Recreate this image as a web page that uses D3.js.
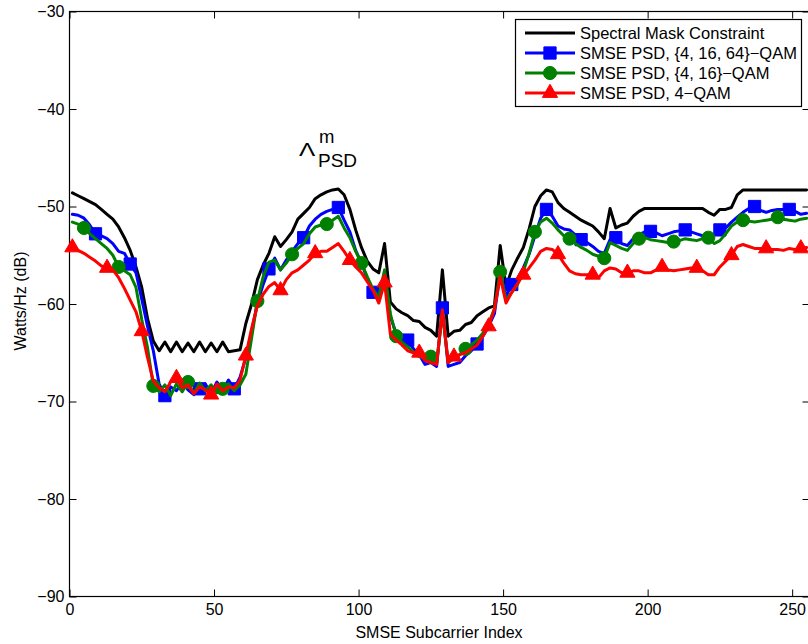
<!DOCTYPE html>
<html>
<head>
<meta charset="utf-8">
<script src="https://cdn.jsdelivr.net/npm/d3@7"></script>
<style>
  html, body { margin: 0; padding: 0; background: #fff; }
  svg { display: block; font-family: "Liberation Sans", Arial, Helvetica, sans-serif; }
</style>
</head>
<body>
<svg id="chart" width="808" height="644"></svg>
<script>
// ---------------- data ----------------
const subcarrierIndex = [
  1,3,5,7,9,11,13,15,17,19,21,23,25,27,29,31,33,35,37,39,
  41,43,45,47,49,51,53,55,57,59,61,63,65,67,69,71,73,75,77,79,
  81,83,85,87,89,91,93,95,97,99,101,103,105,107,109,111,113,115,117,119,
  121,123,125,127,129,131,133,135,137,139,141,143,145,147,149,151,153,155,157,159,
  161,163,165,167,169,171,173,175,177,179,181,183,185,187,189,191,193,195,197,199,
  201,203,205,207,209,211,213,215,217,219,221,223,225,227,229,231,233,235,237,239,
  241,243,245,247,249,251,253,255
];

const maskPSD = [
  -48.6,-48.9,-49.2,-49.5,-49.8,-50.3,-50.8,-51.3,-52.1,-53.2,
  -54.5,-56.2,-58.3,-61.5,-63.8,-64.8,-63.9,-64.9,-63.9,-64.9,
  -64.0,-64.9,-63.9,-64.9,-64.0,-64.9,-63.9,-64.9,-64.8,-64.7,
  -62.0,-60.0,-57.5,-56.0,-54.8,-53.1,-54.1,-53.4,-52.6,-51.3,
  -50.7,-50.1,-49.2,-48.8,-48.5,-48.3,-48.2,-48.8,-50.3,-52.4,
  -54.2,-55.6,-56.4,-56.8,-53.8,-59.8,-60.5,-60.9,-61.2,-61.7,
  -61.8,-62.4,-62.7,-63.3,-56.5,-63.3,-62.8,-62.7,-62.1,-61.9,
  -61.2,-60.8,-60.4,-60.2,-54.0,-58.2,-56.5,-55.3,-54.2,-52.3,
  -50.0,-48.9,-48.3,-48.5,-49.6,-50.2,-50.6,-51.0,-51.4,-51.7,
  -52.0,-52.6,-53.3,-50.2,-52.2,-51.9,-51.7,-51.0,-50.5,-50.2,
  -50.2,-50.2,-50.2,-50.2,-50.2,-50.2,-50.2,-50.2,-50.2,-50.2,
  -50.6,-50.9,-50.3,-50.3,-50.1,-48.8,-48.3,-48.3,-48.3,-48.3,
  -48.3,-48.3,-48.3,-48.3,-48.3,-48.3,-48.3,-48.3
];

const psdQam4_16_64 = [
  -50.8,-50.9,-51.2,-51.9,-52.8,-53.0,-53.3,-53.8,-54.6,-54.8,
  -55.9,-56.8,-59.5,-62.3,-64.8,-68.2,-69.4,-68.5,-68.9,-68.0,
  -68.8,-69.3,-68.7,-68.2,-69.2,-68.0,-68.9,-67.8,-68.7,-67.5,
  -65.5,-62.8,-59.9,-58.0,-56.4,-55.3,-56.5,-55.5,-54.6,-53.8,
  -53.2,-52.0,-51.3,-50.8,-50.5,-50.3,-50.1,-51.4,-52.6,-54.5,
  -55.8,-57.4,-58.8,-59.6,-56.8,-61.3,-63.0,-63.3,-63.7,-64.6,
  -65.2,-66.2,-66.0,-66.4,-60.4,-66.4,-66.2,-66.0,-65.3,-64.8,
  -64.1,-63.3,-62.3,-61.0,-56.8,-59.2,-58.0,-57.4,-56.3,-54.9,
  -53.0,-51.2,-50.3,-51.0,-52.0,-52.3,-52.4,-52.9,-53.4,-53.7,
  -54.1,-54.6,-54.8,-53.4,-53.2,-53.8,-54.0,-53.3,-52.9,-52.6,
  -52.55,-52.7,-53.0,-52.8,-52.6,-52.5,-52.4,-52.6,-52.8,-53.0,
  -53.2,-52.9,-52.4,-52.2,-51.6,-51.1,-50.6,-50.2,-50.0,-50.4,
  -50.6,-50.4,-50.3,-50.3,-50.3,-50.5,-50.8,-50.7
];

const psdQam4_16 = [
  -51.6,-51.8,-52.2,-52.8,-53.3,-53.8,-54.3,-55.0,-56.2,-56.6,
  -57.0,-58.3,-61.6,-64.5,-68.4,-69.0,-68.3,-69.4,-68.2,-69.0,
  -68.0,-69.2,-68.1,-68.9,-68.3,-69.1,-68.7,-68.2,-68.9,-68.3,
  -67.2,-63.5,-59.7,-57.2,-55.7,-55.5,-56.5,-55.8,-54.9,-54.3,
  -53.8,-52.8,-52.1,-51.9,-51.8,-51.4,-51.0,-52.2,-53.2,-54.6,
  -55.8,-57.2,-58.5,-59.3,-56.5,-61.0,-63.3,-63.9,-64.4,-64.9,
  -65.4,-65.6,-65.4,-66.1,-60.9,-66.0,-65.6,-65.2,-64.6,-64.2,
  -63.7,-63.0,-62.0,-60.5,-56.7,-59.6,-58.8,-58.0,-56.7,-54.8,
  -52.6,-51.6,-51.2,-51.7,-52.4,-53.0,-53.3,-53.8,-54.2,-54.5,
  -54.9,-55.1,-55.3,-53.7,-54.0,-54.3,-54.5,-53.8,-53.3,-53.2,
  -53.4,-53.5,-53.6,-53.7,-53.6,-53.5,-53.3,-53.4,-53.5,-53.3,
  -53.2,-53.8,-53.5,-52.8,-52.0,-51.6,-51.4,-51.5,-51.6,-51.5,
  -51.4,-51.3,-51.1,-51.3,-51.4,-51.5,-51.3,-51.2
];

const psdQam4 = [
  -54.2,-54.5,-54.8,-55.2,-55.6,-56.1,-56.3,-56.5,-57.3,-58.4,
  -59.6,-60.8,-62.8,-65.5,-67.9,-68.6,-69.0,-68.0,-67.6,-68.6,
  -68.3,-69.2,-68.5,-68.8,-69.3,-68.2,-68.9,-68.5,-68.6,-67.8,
  -65.3,-62.5,-60.2,-59.0,-58.2,-57.8,-58.6,-57.5,-56.8,-56.5,
  -56.0,-55.5,-54.8,-54.6,-54.6,-54.2,-53.8,-54.6,-55.5,-56.2,
  -56.8,-57.7,-58.6,-59.9,-57.8,-63.1,-63.7,-64.2,-64.8,-65.0,
  -65.0,-65.8,-66.0,-66.2,-60.6,-66.0,-65.4,-65.2,-65.0,-64.6,
  -64.2,-63.3,-62.3,-60.5,-57.2,-59.9,-58.8,-57.9,-57.0,-56.3,
  -55.5,-54.6,-54.3,-54.4,-54.9,-55.8,-56.6,-56.9,-57.0,-57.0,
  -57.0,-57.3,-56.6,-56.3,-56.4,-56.8,-56.8,-56.6,-56.6,-56.8,
  -56.8,-56.5,-56.2,-56.5,-56.6,-56.5,-56.4,-56.3,-56.3,-56.6,
  -57.0,-57.0,-56.2,-55.6,-55.0,-54.1,-53.9,-54.1,-54.3,-54.3,
  -54.3,-54.4,-54.4,-54.5,-54.3,-54.4,-54.3,-54.2
];

const seriesNames = [
  "Spectral Mask Constraint",
  "SMSE PSD, {4, 16, 64}\u2212QAM",
  "SMSE PSD, {4, 16}\u2212QAM",
  "SMSE PSD, 4\u2212QAM"
];
const seriesColors = ["#000000", "#0000ff", "#008000", "#ff0000"];
const seriesMarkers = [null, "square", "circle", "triangle"];
const markerFirstIndex = [null, 9, 5, 1];   // subcarrier of first marker
const markerEvery = 12;                      // subcarriers between markers

const xTicks = [0, 50, 100, 150, 200, 250];
const yTicks = [-90, -80, -70, -60, -50, -40, -30];

// ---------------- layout ----------------
const svg = d3.select("#chart");
const plotLeft = 69.5, plotRight = 809.5, plotTop = 11.5, plotBottom = 596.5;

const x = d3.scaleLinear().domain([0, 256]).range([plotLeft, plotRight]);
const y = d3.scaleLinear().domain([-90, -30]).range([plotBottom, plotTop]);

// axes
const fmt = d3.format("");
const gx = svg.append("g").attr("transform", `translate(0,${plotBottom})`)
  .call(d3.axisBottom(x).tickValues(xTicks).tickSizeInner(-7).tickSizeOuter(0).tickPadding(7).tickFormat(fmt));
const gxTop = svg.append("g").attr("transform", `translate(0,${plotTop})`)
  .call(d3.axisTop(x).tickValues(xTicks).tickSizeInner(-7).tickSizeOuter(0).tickFormat(""));
const gy = svg.append("g").attr("transform", `translate(${plotLeft},0)`)
  .call(d3.axisLeft(y).tickValues(yTicks).tickSizeInner(-7).tickSizeOuter(0).tickPadding(5).tickFormat(fmt));
const gyRight = svg.append("g").attr("transform", `translate(${plotRight},0)`)
  .call(d3.axisRight(y).tickValues(yTicks).tickSizeInner(-7).tickSizeOuter(0).tickFormat(""));

[gx, gxTop, gy, gyRight].forEach(g => {
  g.select(".domain").remove();
  g.selectAll(".tick line").attr("stroke", "#000").attr("stroke-width", 1);
  g.selectAll(".tick text").attr("fill", "#000").style("font-size", "16px")
    .style("font-family", "'Liberation Sans', Arial, sans-serif");
});

// frame
svg.append("rect")
  .attr("x", plotLeft).attr("y", plotTop)
  .attr("width", plotRight - plotLeft).attr("height", plotBottom - plotTop)
  .attr("fill", "none").attr("stroke", "#000").attr("stroke-width", 1.2);

// ---------------- series ----------------
const allValues = [maskPSD, psdQam4_16_64, psdQam4_16, psdQam4];
const line = d3.line().x(d => x(d[0])).y(d => y(d[1]));

function symbolFor(kind) {
  if (kind === "square") return d3.symbol().type(d3.symbolSquare).size(150);
  if (kind === "circle") return d3.symbol().type(d3.symbolCircle).size(135);
  if (kind === "triangle") return d3.symbol().type(d3.symbolTriangle).size(100);
  return null;
}

const plot = svg.append("g");
allValues.forEach((vals, s) => {
  const pts = subcarrierIndex.map((i, k) => [i, vals[k]]);
  plot.append("path")
    .datum(pts)
    .attr("d", line)
    .attr("fill", "none")
    .attr("stroke", seriesColors[s])
    .attr("stroke-width", 3)
    .attr("stroke-linejoin", "round")
    .attr("stroke-linecap", "round");
  const sym = symbolFor(seriesMarkers[s]);
  if (sym) {
    const mpts = pts.filter(p => p[0] >= markerFirstIndex[s] && (p[0] - markerFirstIndex[s]) % markerEvery === 0);
    plot.selectAll(null).data(mpts).enter().append("path")
      .attr("d", sym)
      .attr("transform", d => `translate(${x(d[0])},${y(d[1])})`)
      .attr("fill", seriesColors[s])
      .attr("stroke", seriesColors[s])
      .attr("stroke-width", 1);
  }
});

// ---------------- annotation ----------------
const ann = svg.append("g").attr("fill", "#000").style("font-family", "'Liberation Sans', Arial, sans-serif");
ann.append("text").attr("transform", "translate(299,155.5) scale(1.35,1)")
  .style("font-size", "18px").style("font-weight", "normal").text("\u039B");
ann.append("text").attr("x", 319).attr("y", 143).style("font-size", "18.5px").text("m");
ann.append("text").attr("x", 318).attr("y", 167).style("font-size", "19px").text("PSD");

// ---------------- labels ----------------
svg.append("text")
  .attr("x", 439).attr("y", 638)
  .attr("text-anchor", "middle")
  .style("font-size", "16px").attr("fill", "#000")
  .text("SMSE Subcarrier Index");

svg.append("text")
  .attr("transform", "translate(26,301) rotate(-90)")
  .attr("text-anchor", "middle")
  .style("font-size", "16px").attr("fill", "#000")
  .text("Watts/Hz (dB)");

// ---------------- legend ----------------
const lg = svg.append("g");
lg.append("rect")
  .attr("x", 515.5).attr("y", 19.5).attr("width", 286).attr("height", 87)
  .attr("fill", "#fff").attr("stroke", "#000").attr("stroke-width", 1.2);
const rowY = [33, 53, 73, 93];
seriesNames.forEach((name, s) => {
  const ry = rowY[s];
  lg.append("line")
    .attr("x1", 525).attr("x2", 575).attr("y1", ry).attr("y2", ry)
    .attr("stroke", seriesColors[s]).attr("stroke-width", 3);
  const sym = symbolFor(seriesMarkers[s]);
  if (sym) {
    lg.append("path").attr("d", sym)
      .attr("transform", `translate(550,${ry})`)
      .attr("fill", seriesColors[s]).attr("stroke", seriesColors[s]).attr("stroke-width", 1);
  }
  lg.append("text")
    .attr("x", 580).attr("y", ry + 6)
    .style("font-size", "16.5px").attr("fill", "#000")
    .text(name);
});
</script>
</body>
</html>
